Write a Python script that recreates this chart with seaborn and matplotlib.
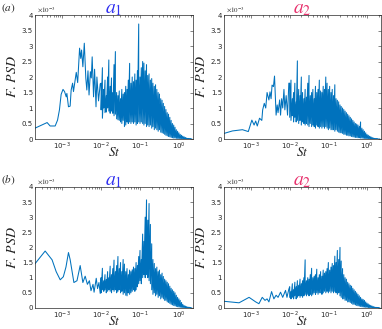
import matplotlib
matplotlib.use("Agg")
import matplotlib.pyplot as plt
import numpy as np
import pandas as pd
import seaborn as sns
from matplotlib.ticker import FixedLocator, FuncFormatter, LogLocator, NullFormatter

sns.set_theme(style="white")
plt.rcParams["font.family"] = ["DejaVu Sans"]
plt.rcParams["mathtext.fontset"] = "stix"

# ==========================================
# DATA (PSD in units of 1e-3)
# ==========================================
# shared St grid for the dense, high-frequency part of every spectrum
st_grid = [
    0.0100, 0.0108, 0.0117, 0.0126, 0.0136, 0.0147, 0.0158, 0.0171, 0.0185, 0.0200,
    0.0215, 0.0233, 0.0251, 0.0271, 0.0293, 0.0316, 0.0341, 0.0369, 0.0398, 0.0430,
    0.0464, 0.0501, 0.0541, 0.0584, 0.0631, 0.0681, 0.0736, 0.0794, 0.0858, 0.0926,
    0.100, 0.108, 0.117, 0.126, 0.136, 0.147, 0.158, 0.171, 0.185, 0.200,
    0.215, 0.233, 0.251, 0.271, 0.293, 0.316, 0.341, 0.369, 0.398, 0.430,
    0.464, 0.501, 0.541, 0.584, 0.631, 0.681, 0.736, 0.794, 0.858, 0.926,
    1.00, 1.08, 1.17, 1.26, 1.36, 1.47, 1.58, 1.71, 1.85, 2.00, 2.15,
]

# (a) a1
a1_st_low = [2.0e-4, 4.1e-4, 4.9e-4, 6.6e-4, 7.6e-4, 8.5e-4, 9.4e-4, 1.05e-3, 1.15e-3,
             1.27e-3, 1.32e-3, 1.45e-3, 1.6e-3, 1.7e-3, 1.85e-3, 1.95e-3, 2.3e-3, 2.5e-3,
             2.8e-3, 3.0e-3, 3.15e-3, 3.4e-3, 3.7e-3, 4.05e-3, 4.3e-3, 4.6e-3, 4.9e-3,
             5.3e-3, 5.6e-3, 5.9e-3, 6.4e-3, 6.8e-3, 7.4e-3, 7.8e-3, 8.6e-3, 9.5e-3]
a1_psd_low = [0.35, 0.53, 0.42, 0.42, 0.61, 0.94, 1.44, 1.6, 1.53,
              1.36, 1.47, 1.04, 1.06, 1.58, 1.8, 1.53, 2.15, 1.82,
              2.93, 2.6, 2.87, 2.33, 3.09, 1.96, 1.58, 2.2, 1.42,
              2.17, 1.97, 2.65, 1.36, 2.25, 1.04, 2.0, 1.23, 1.78]
a1_hi = [1.8, 2.3, 1.6, 1.9, 1.4, 2.0, 2.55, 1.7, 1.97, 1.5,
         2.4, 2.82, 1.5, 1.4, 1.55, 1.3, 1.6, 1.45, 1.5, 1.7,
         1.6, 1.9, 2.44, 1.8, 2.0, 1.85, 2.1, 1.9, 2.2, 3.71,
         2.0, 2.3, 2.5, 2.45, 2.2, 2.4, 2.05, 2.1, 1.9, 1.95,
         1.8, 1.7, 1.75, 1.6, 1.5, 1.45, 1.3, 1.25, 1.15, 1.05,
         0.95, 0.85, 0.8, 0.7, 0.6, 0.5, 0.45, 0.38, 0.3, 0.25,
         0.2, 0.15, 0.12, 0.09, 0.07, 0.05, 0.03, 0.02, 0.01, 0.01, 0.0]
a1_lo = [0.94, 0.67, 1.0, 0.85, 0.87, 1.0, 0.9, 0.83, 0.9, 0.83,
         0.75, 0.8, 0.65, 0.62, 0.6, 0.55, 0.5, 0.6, 0.4, 0.45,
         0.55, 0.5, 0.55, 0.5, 0.55, 0.5, 0.55, 0.45, 0.5, 0.55,
         0.5, 0.55, 0.5, 0.45, 0.5, 0.4, 0.45, 0.4, 0.45, 0.35,
         0.4, 0.3, 0.35, 0.3, 0.25, 0.3, 0.22, 0.2, 0.18, 0.15,
         0.12, 0.1, 0.08, 0.07, 0.05, 0.04, 0.03, 0.03, 0.02, 0.02,
         0.01, 0.01, 0.01, 0.0, 0.0, 0.0, 0.0, 0.0, 0.0, 0.0, 0.0]

# (a) a2
a2_st_low = [2.0e-4, 3.3e-4, 6.0e-4, 8.5e-4, 1.05e-3, 1.2e-3, 1.32e-3, 1.45e-3, 1.66e-3,
             1.9e-3, 2.0e-3, 2.2e-3, 2.4e-3, 2.6e-3, 2.9e-3, 3.1e-3, 3.3e-3, 3.5e-3,
             3.8e-3, 4.05e-3, 4.3e-3, 4.45e-3, 4.75e-3, 5.0e-3, 5.5e-3, 5.8e-3, 6.2e-3,
             6.6e-3, 7.1e-3, 7.5e-3, 8.1e-3, 8.8e-3, 9.5e-3]
a2_psd_low = [0.18, 0.26, 0.3, 0.24, 0.61, 0.45, 0.58, 0.42, 0.67,
              0.6, 0.94, 1.15, 1.0, 1.5, 1.26, 1.52, 1.3, 1.74,
              1.69, 2.03, 1.26, 0.77, 1.1, 0.85, 1.26, 0.77, 1.3,
              1.0, 1.6, 0.94, 1.4, 0.77, 1.8]
a2_hi = [1.8, 1.9, 1.3, 1.5, 1.8, 1.2, 2.52, 1.6, 1.4, 2.0,
         1.5, 1.3, 1.6, 1.35, 1.8, 2.05, 1.4, 1.5, 1.6, 1.3,
         1.7, 1.5, 1.6, 1.9, 1.55, 1.5, 1.7, 1.6, 2.0, 1.8,
         1.6, 1.7, 1.5, 1.6, 1.4, 1.75, 1.3, 1.25, 1.2, 1.1,
         1.05, 1.0, 0.95, 0.9, 0.85, 0.8, 0.75, 0.7, 0.65, 0.6,
         0.55, 0.5, 0.48, 0.45, 0.4, 0.55, 0.35, 0.3, 0.25, 0.2,
         0.15, 0.12, 0.09, 0.07, 0.05, 0.03, 0.02, 0.01, 0.01, 0.0, 0.0]
a2_lo = [0.7, 0.6, 0.75, 0.55, 0.7, 0.55, 0.6, 0.5, 0.6, 0.45,
         0.55, 0.5, 0.45, 0.5, 0.45, 0.4, 0.5, 0.4, 0.45, 0.4,
         0.35, 0.45, 0.4, 0.35, 0.4, 0.35, 0.4, 0.35, 0.4, 0.35,
         0.3, 0.35, 0.3, 0.3, 0.3, 0.25, 0.3, 0.25, 0.22, 0.2,
         0.2, 0.18, 0.15, 0.15, 0.12, 0.12, 0.1, 0.1, 0.08, 0.07,
         0.06, 0.05, 0.05, 0.04, 0.04, 0.03, 0.03, 0.02, 0.02, 0.01,
         0.01, 0.01, 0.0, 0.0, 0.0, 0.0, 0.0, 0.0, 0.0, 0.0, 0.0]

# (b) a1
b1_st_low = [2.0e-4, 3.65e-4, 5.5e-4, 7.0e-4, 8.9e-4, 1.07e-3, 1.25e-3, 1.45e-3, 1.6e-3,
             2.0e-3, 2.4e-3, 2.9e-3, 3.4e-3, 3.9e-3, 4.45e-3, 5.0e-3, 5.5e-3, 6.2e-3,
             6.6e-3, 7.5e-3, 8.1e-3, 8.8e-3, 9.5e-3]
b1_psd_low = [1.46, 1.88, 1.59, 1.2, 0.93, 1.03, 1.35, 1.83, 1.6,
              0.84, 0.9, 1.4, 0.84, 1.05, 0.78, 0.9, 0.57, 0.78,
              0.52, 0.98, 0.64, 0.84, 0.48]
b1_hi = [1.0, 1.31, 0.9, 1.1, 0.94, 1.2, 1.0, 1.38, 1.1, 1.3,
         1.58, 1.2, 1.4, 1.7, 1.3, 1.5, 1.2, 1.6, 1.45, 1.2,
         1.3, 1.1, 1.25, 1.2, 1.26, 1.35, 1.3, 1.5, 1.4, 1.7,
         1.9, 1.6, 2.44, 2.2, 3.0, 3.57, 2.9, 3.45, 2.76, 2.12,
         1.6, 1.47, 1.3, 1.35, 1.2, 1.25, 1.1, 1.15, 1.04, 0.95,
         0.9, 0.85, 0.8, 0.72, 0.65, 0.6, 0.55, 0.5, 0.42, 0.35,
         0.3, 0.25, 0.18, 0.12, 0.08, 0.06, 0.04, 0.03, 0.02, 0.01, 0.0]
b1_lo = [0.5, 0.6, 0.55, 0.6, 0.5, 0.55, 0.6, 0.55, 0.5, 0.6,
         0.55, 0.6, 0.5, 0.55, 0.6, 0.5, 0.55, 0.45, 0.5, 0.42,
         0.4, 0.5, 0.45, 0.5, 0.55, 0.6, 0.55, 0.6, 0.7, 0.8,
         0.9, 0.8, 1.0, 1.1, 1.0, 1.1, 1.0, 0.9, 0.8, 0.6,
         0.45, 0.5, 0.4, 0.45, 0.35, 0.4, 0.3, 0.35, 0.3, 0.25,
         0.25, 0.2, 0.18, 0.15, 0.12, 0.1, 0.08, 0.07, 0.05, 0.04,
         0.03, 0.02, 0.02, 0.01, 0.01, 0.0, 0.0, 0.0, 0.0, 0.0, 0.0]

# (b) a2
b2_st_low = [2.0e-4, 4.9e-4, 8.9e-4, 1.32e-3, 1.6e-3, 1.95e-3, 2.3e-3, 2.6e-3, 2.9e-3,
             3.4e-3, 3.9e-3, 4.45e-3, 5.0e-3, 5.8e-3, 6.6e-3, 7.8e-3, 8.5e-3, 9.5e-3]
b2_psd_low = [0.22, 0.17, 0.35, 0.2, 0.14, 0.35, 0.25, 0.3, 0.2,
              0.54, 0.3, 0.42, 0.35, 0.52, 0.35, 0.58, 0.35, 0.62]
b2_hi = [0.7, 0.55, 0.8, 0.6, 0.85, 0.7, 0.9, 0.75, 0.95, 0.8,
         0.9, 1.0, 1.59, 0.9, 1.0, 0.95, 1.1, 1.31, 1.0, 1.05,
         1.1, 1.28, 1.0, 1.1, 1.2, 1.05, 1.25, 1.15, 1.2, 1.3,
         1.5, 1.25, 1.35, 1.47, 1.4, 1.71, 1.5, 1.9, 1.6, 2.0,
         1.55, 1.3, 1.1, 1.0, 0.95, 0.85, 0.8, 0.75, 0.72, 0.65,
         0.6, 0.55, 0.5, 0.45, 0.4, 0.35, 0.3, 0.28, 0.25, 0.2,
         0.16, 0.13, 0.1, 0.08, 0.06, 0.04, 0.03, 0.02, 0.01, 0.01, 0.0]
b2_lo = [0.35, 0.3, 0.35, 0.3, 0.4, 0.3, 0.35, 0.4, 0.35, 0.4,
         0.35, 0.4, 0.45, 0.4, 0.45, 0.4, 0.45, 0.4, 0.45, 0.5,
         0.45, 0.5, 0.45, 0.5, 0.5, 0.45, 0.5, 0.55, 0.5, 0.55,
         0.5, 0.55, 0.5, 0.55, 0.5, 0.55, 0.5, 0.45, 0.5, 0.4,
         0.35, 0.3, 0.3, 0.25, 0.25, 0.2, 0.2, 0.18, 0.15, 0.12,
         0.12, 0.1, 0.08, 0.07, 0.06, 0.05, 0.04, 0.03, 0.03, 0.02,
         0.02, 0.01, 0.01, 0.01, 0.0, 0.0, 0.0, 0.0, 0.0, 0.0, 0.0]

y_ticks = [0, 0.5, 1, 1.5, 2, 2.5, 3, 3.5, 4]
x_ticks = [1e-3, 1e-2, 1e-1, 1e0]

panels = [
    ("$a_1$", "#3030f0", a1_st_low, a1_psd_low, a1_hi, a1_lo),
    ("$a_2$", "#e8326e", a2_st_low, a2_psd_low, a2_hi, a2_lo),
    ("$a_1$", "#3030f0", b1_st_low, b1_psd_low, b1_hi, b1_lo),
    ("$a_2$", "#e8326e", b2_st_low, b2_psd_low, b2_hi, b2_lo),
]


def build_trace(st_low, psd_low, hi, lo):
    # smooth low-frequency part, then the dense peak/trough band
    xs = list(st_low)
    ys = list(psd_low)
    for s, h, l in zip(st_grid, hi, lo):
        xs += [s, s]
        ys += [h, l]
    return pd.DataFrame({"St": xs, "PSD": ys})


# ==========================================
# FIGURE
# ==========================================
fig = plt.figure(figsize=(3.82, 3.29), dpi=100)
positions = [
    [0.0916, 0.5775, 0.4136, 0.3769],
    [0.5864, 0.5775, 0.4110, 0.3769],
    [0.0916, 0.0640, 0.4136, 0.3680],
    [0.5864, 0.0640, 0.4110, 0.3680],
]
edge = "#262626"

for pos, (title, tcolor, st_low, psd_low, hi, lo) in zip(positions, panels):
    ax = fig.add_axes(pos)
    df = build_trace(st_low, psd_low, hi, lo)
    ax.set_xscale("log")
    sns.lineplot(data=df, x="St", y="PSD", sort=False, estimator=None,
                 color="#0072BD", linewidth=0.75, ax=ax)
    ax.set_xlim(2e-4, 2.3)
    ax.set_ylim(0, 4)
    ax.yaxis.set_major_locator(FixedLocator(y_ticks))
    ax.yaxis.set_major_formatter(FuncFormatter(lambda v, p: f"{v:g}"))
    ax.xaxis.set_major_locator(FixedLocator(x_ticks))
    ax.xaxis.set_minor_locator(LogLocator(base=10, subs=np.arange(2, 10)))
    ax.xaxis.set_minor_formatter(NullFormatter())
    ax.tick_params(which="both", direction="in", top=True, right=True,
                   labelsize=5, colors=edge, width=0.4, pad=1.5)
    ax.tick_params(which="major", length=2.5)
    ax.tick_params(which="minor", length=1.4)
    for sp in ax.spines.values():
        sp.set_visible(True)
        sp.set_color(edge)
        sp.set_linewidth(0.5)
    ax.set_xlabel("$St$", fontsize=9.5, labelpad=-4.5, color="#222222")
    ax.set_ylabel("$F.\\,PSD$", fontsize=10, labelpad=2, color="#222222")
    ax.set_title(title, color=tcolor, fontsize=14, pad=1)
    ax.text(0.01, 1.005, "$\\times 10^{-3}$", transform=ax.transAxes,
            fontsize=5, color=edge, ha="left", va="bottom")

fig.text(0.003, 0.975, "$(a)$", fontsize=8, ha="left", va="center")
fig.text(0.003, 0.452, "$(b)$", fontsize=8, ha="left", va="center")

fig.savefig("out.png", dpi=100)
